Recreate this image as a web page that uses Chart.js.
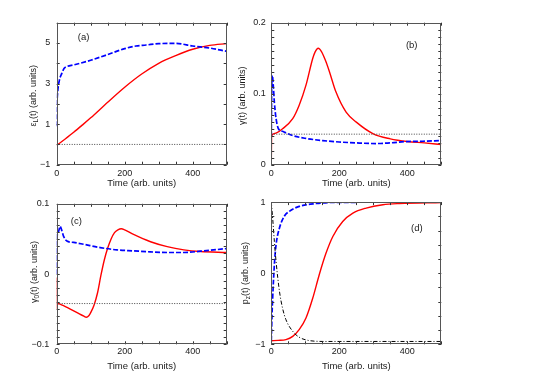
<!DOCTYPE html>
<html>
<head>
<meta charset="utf-8">
<script src="https://cdn.jsdelivr.net/npm/chart.js@4.4.1/dist/chart.umd.min.js"></script>
<style>
  html, body { margin: 0; padding: 0; background: #fff; }
  #lienzo { position: relative; width: 540px; height: 382px; overflow: hidden; background: #fff; }
  .panel { position: absolute; }
</style>
</head>
<body>
<div id="lienzo">
  <canvas id="chartA" class="panel" width="230" height="191" style="left:0;top:0;width:230px;height:191px"></canvas>
  <canvas id="chartB" class="panel" width="310" height="191" style="left:230px;top:0;width:310px;height:191px"></canvas>
  <canvas id="chartC" class="panel" width="230" height="191" style="left:0;top:191px;width:230px;height:191px"></canvas>
  <canvas id="chartD" class="panel" width="310" height="191" style="left:230px;top:191px;width:310px;height:191px"></canvas>
</div>
<script>
// ---- Datos ----
const xEtiquetas = [0, 200, 400];

// (a) campo eps_L(t)
const aTiempoRojo = [0, 25, 50, 75, 100, 150, 200, 250, 300, 350, 400, 450, 500];
const aEpsRojo = [-0.05, 0.27, 0.6, 0.95, 1.31, 2.08, 2.82, 3.47, 4.0, 4.38, 4.69, 4.88, 4.97];
const aTiempoAzul = [0, 1, 3, 8, 15, 22, 30, 50, 86, 100, 145, 200, 233, 263, 300, 350, 400, 450, 500];
const aEpsAzul = [0.9, 2.0, 2.6, 3.17, 3.5, 3.75, 3.84, 3.92, 4.08, 4.15, 4.4, 4.72, 4.85, 4.9, 4.97, 4.98, 4.85, 4.75, 4.59];
const aNivel = 0;
const aEtiquetasY = [-1, 1, 3, 5];

// (b) gamma(t)
const bTiempoRojo = [0, 1, 10, 33, 63, 82, 102, 122, 129, 138, 148, 160, 171, 190, 220, 250, 300, 350, 400, 450, 500];
const bGammaRojo = [0.004, 0.041, 0.044, 0.0506, 0.0648, 0.0837, 0.112, 0.15, 0.159, 0.164, 0.159, 0.146, 0.131, 0.1026, 0.074, 0.06, 0.0435, 0.0364, 0.0326, 0.0307, 0.0284];
const bTiempoAzul = [0, 1, 3, 6, 9, 14, 21, 33, 63, 102, 151, 200, 250, 308, 348, 397, 446, 500];
const bGammaAzul = [0.04, 0.1, 0.126, 0.11, 0.088, 0.065, 0.0506, 0.047, 0.041, 0.037, 0.034, 0.032, 0.0307, 0.0298, 0.0307, 0.0326, 0.033, 0.034];
const bNivel = 0.043;
const bEtiquetasY = [0, 0.1, 0.2];

// (c) gamma_0(t)
const cTiempoRojo = [0, 0.5, 1, 1.5, 2, 20, 40, 60, 80, 87, 95, 100, 110, 120, 130, 140, 150, 160, 170, 180, 190, 200, 226, 276, 325, 374, 423, 500];
const cGammaRojo = [-0.005, -0.05, -0.02, -0.045, -0.042, -0.045, -0.05, -0.055, -0.06, -0.0616, -0.059, -0.055, -0.044, -0.027, -0.002, 0.02, 0.037, 0.05, 0.059, 0.063, 0.0645, 0.063, 0.0564, 0.046, 0.039, 0.0344, 0.032, 0.0307];
const cTiempoAzul = [0, 1, 2, 5, 10, 15, 20, 30, 50, 79, 128, 177, 226, 275, 325, 374, 423, 500];
const cGammaAzul = [0.0, 0.045, 0.058, 0.06, 0.068, 0.062, 0.054, 0.047, 0.045, 0.0424, 0.0377, 0.0344, 0.033, 0.0316, 0.0307, 0.0307, 0.0325, 0.0363];
const cNivel = -0.042;
const cEtiquetasY = [-0.1, 0, 0.1];

// (d) p_z(t)
const dTiempoRojo = [0, 20, 43, 63, 82, 102, 122, 141, 161, 181, 210, 240, 279, 328, 377, 500];
const dPzRojo = [-0.95, -0.945, -0.934, -0.888, -0.794, -0.63, -0.349, -0.021, 0.283, 0.517, 0.728, 0.845, 0.916, 0.963, 0.98, 0.995];
const dTiempoAzul = [0, 2, 4, 9, 14, 24, 38, 53, 82, 132, 181, 500];
const dPzAzul = [-0.95, -0.6, -0.35, 0.12, 0.4, 0.635, 0.8, 0.87, 0.94, 0.98, 0.995, 1.0];
const dTiempoNegro = [0, 4, 9, 14, 24, 33, 43, 63, 82, 112, 161, 500];
const dPzNegro = [1.0, 0.775, 0.447, 0.166, -0.255, -0.49, -0.653, -0.817, -0.9, -0.948, -0.96, -0.96];
const dEtiquetasY = [-1, 0, 1];

const FUENTE = '"Liberation Sans", Arial, Helvetica, sans-serif';
const COLOR_TEXTO = '#1a1a1a';

/**
 * Une tiempos y valores en puntos {x, y}
 */
function serie(ts, ys) {
  return ts.map((t, i) => ({ x: t, y: ys[i] }));
}

function lineaRoja(ts, ys) {
  return { data: serie(ts, ys), borderColor: '#ff0000', borderWidth: 1.4, pointRadius: 0, cubicInterpolationMode: 'monotone' };
}

function lineaAzul(ts, ys) {
  return { data: serie(ts, ys), borderColor: '#0000ff', borderWidth: 1.7, borderDash: [5, 2], pointRadius: 0, cubicInterpolationMode: 'monotone' };
}

function lineaNivel(nivel) {
  return { data: serie([0, 500], [nivel, nivel]), borderColor: '#444', borderWidth: 1, borderDash: [1, 1.5], pointRadius: 0 };
}

/**
 * Marco, marcas interiores, etiqueta del panel y título vertical
 */
const marcoPlugin = {
  id: 'marco',
  afterDatasetsDraw(chart, args, o) {
    const { ctx, chartArea: a } = chart;
    const sx = chart.scales.x;
    const sy = chart.scales.y;
    ctx.save();

    // marcas hacia dentro en los cuatro lados
    ctx.strokeStyle = '#333';
    ctx.lineWidth = 1;
    ctx.beginPath();
    const nx = Math.round((sx.max - sx.min) / o.pasoX);
    for (let i = 0; i <= nx; i++) {
      const px = Math.round(sx.getPixelForValue(sx.min + i * o.pasoX)) + 0.5;
      ctx.moveTo(px, a.bottom); ctx.lineTo(px, a.bottom - 3);
      ctx.moveTo(px, a.top); ctx.lineTo(px, a.top + 3);
    }
    const ny = Math.round((sy.max - sy.min) / o.pasoY);
    for (let i = 0; i <= ny; i++) {
      const py = Math.round(sy.getPixelForValue(sy.min + i * o.pasoY)) + 0.5;
      ctx.moveTo(a.left, py); ctx.lineTo(a.left + 3, py);
      ctx.moveTo(a.right, py); ctx.lineTo(a.right - 3, py);
    }
    ctx.stroke();

    // marco
    ctx.strokeStyle = '#555';
    const l = Math.round(a.left) + 0.5, t = Math.round(a.top) + 0.5;
    const r = Math.round(a.right) - 0.5, b = Math.round(a.bottom) - 0.5;
    ctx.strokeRect(l, t, r - l, b - t);

    // etiqueta (a), (b)...
    ctx.fillStyle = COLOR_TEXTO;
    ctx.font = '9.5px ' + FUENTE;
    ctx.textAlign = 'center';
    ctx.textBaseline = 'middle';
    ctx.fillText(o.etiqueta, sx.getPixelForValue(o.etiquetaEn[0]), sy.getPixelForValue(o.etiquetaEn[1]));

    // título del eje y con subíndice
    ctx.translate(o.tituloX, (a.top + a.bottom) / 2 + (o.tituloDy || 0));
    ctx.rotate(-Math.PI / 2);
    const fNormal = '9px ' + FUENTE;
    const fSub = '6.5px ' + FUENTE;
    const anchos = o.titulo.map(p => { ctx.font = p[1] ? fSub : fNormal; return ctx.measureText(p[0]).width; });
    let pos = -anchos.reduce((s, w) => s + w, 0) / 2;
    ctx.textAlign = 'left';
    o.titulo.forEach((p, i) => {
      ctx.font = p[1] ? fSub : fNormal;
      ctx.fillText(p[0], pos, p[1] ? 2.5 : 0);
      pos += anchos[i];
    });
    ctx.restore();
  }
};

function fmt(v) {
  return String(v).replace('-', '\u2212');
}

/**
 * Crea un panel con ejes fijos en píxeles
 */
function crearPanel(id, datasets, conf) {
  const ctx = document.getElementById(id);
  return new Chart(ctx, {
    type: 'line',
    data: { datasets: datasets },
    plugins: [marcoPlugin],
    options: {
      responsive: false,
      animation: false,
      devicePixelRatio: 1,
      layout: { padding: { top: conf.arriba, right: conf.derecha, left: 0, bottom: 0 } },
      plugins: {
        legend: { display: false },
        tooltip: { enabled: false },
        marco: conf.marco
      },
      scales: {
        x: {
          type: 'linear', min: 0, max: 500,
          afterBuildTicks: s => { s.ticks = xEtiquetas.map(v => ({ value: v })); },
          afterFit: s => { s.height = conf.altoX; },
          grid: { display: false, drawTicks: false },
          border: { display: false },
          ticks: { autoSkip: false, maxRotation: 0, padding: conf.padX, color: COLOR_TEXTO, font: { family: FUENTE, size: 9 }, callback: v => fmt(v) },
          title: { display: true, text: 'Time (arb. units)', color: COLOR_TEXTO, font: { family: FUENTE, size: 9.5 }, padding: { top: 0, bottom: conf.padTitulo } }
        },
        y: {
          type: 'linear', min: conf.yMin, max: conf.yMax,
          afterBuildTicks: s => { s.ticks = conf.yEtiquetas.map(v => ({ value: v })); },
          afterFit: s => { s.width = conf.anchoY; },
          grid: { display: false, drawTicks: false },
          border: { display: false },
          ticks: { autoSkip: false, padding: conf.padY, color: COLOR_TEXTO, font: { family: FUENTE, size: 9 }, callback: v => fmt(v) }
        }
      }
    }
  });
}

crearPanel('chartA', [
  lineaNivel(aNivel),
  lineaAzul(aTiempoAzul, aEpsAzul),
  lineaRoja(aTiempoRojo, aEpsRojo)
], {
  arriba: 22.7, derecha: 3.3, altoX: 26.3, anchoY: 56.7, padX: 3, padY: 6.5, padTitulo: 2,
  yMin: -1, yMax: 6, yEtiquetas: aEtiquetasY,
  marco: { pasoX: 50, pasoY: 1, etiqueta: '(a)', etiquetaEn: [79, 5.26], tituloX: 34, tituloDy: 2,
    titulo: [['\u03b5', 0], ['L', 1], ['(t) (arb. units)', 0]] }
});

crearPanel('chartB', [
  lineaNivel(bNivel),
  lineaAzul(bTiempoAzul, bGammaAzul),
  lineaRoja(bTiempoRojo, bGammaRojo)
], {
  arriba: 22.7, derecha: 98.7, altoX: 26.3, anchoY: 41.3, padX: 3, padY: 5.5, padTitulo: 2,
  yMin: 0, yMax: 0.2, yEtiquetas: bEtiquetasY,
  marco: { pasoX: 50, pasoY: 0.01, etiqueta: '(b)', etiquetaEn: [413, 0.1676], tituloX: 13, tituloDy: 2,
    titulo: [['\u03b3(t) (arb. units)', 0]] }
});

crearPanel('chartC', [
  lineaNivel(cNivel),
  lineaAzul(cTiempoAzul, cGammaAzul),
  lineaRoja(cTiempoRojo, cGammaRojo)
], {
  arriba: 11, derecha: 3.3, altoX: 37.7, anchoY: 56.7, padX: 1.5, padY: 7.4, padTitulo: 9.6,
  yMin: -0.1, yMax: 0.1, yEtiquetas: cEtiquetasY,
  marco: { pasoX: 50, pasoY: 0.01, etiqueta: '(c)', etiquetaEn: [57.6, 0.0743], tituloX: 35, tituloDy: -2,
    titulo: [['\u03b3', 0], ['0', 1], ['(t) (arb. units)', 0]] }
});

crearPanel('chartD', [
  { data: serie(dTiempoNegro, dPzNegro), borderColor: '#000', borderWidth: 1, borderDash: [4, 2, 1, 2], pointRadius: 0, cubicInterpolationMode: 'monotone' },
  lineaAzul(dTiempoAzul, dPzAzul),
  lineaRoja(dTiempoRojo, dPzRojo)
], {
  arriba: 11, derecha: 98.7, altoX: 37.7, anchoY: 41.3, padX: 1.5, padY: 5.7, padTitulo: 9.6,
  yMin: -1, yMax: 1, yEtiquetas: dEtiquetasY,
  marco: { pasoX: 50, pasoY: 0.2, etiqueta: '(d)', etiquetaEn: [428, 0.625], tituloX: 15.5, tituloDy: 0,
    titulo: [['p', 0], ['z', 1], ['(t) (arb. units)', 0]] }
});
</script>
</body>
</html>
